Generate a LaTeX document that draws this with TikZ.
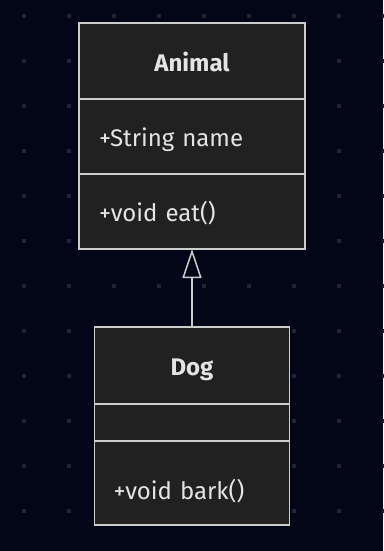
\documentclass[tikz,border=0pt]{standalone}
\usepackage{fontspec}
\setmainfont{Fira Sans}
\usetikzlibrary{arrows.meta, positioning}

\definecolor{canvas}{HTML}{020617}
\definecolor{griddot}{HTML}{22252F}
\definecolor{boxfill}{HTML}{212121}
\definecolor{boxline}{HTML}{CCCCCC}
\definecolor{ink}{HTML}{E4E4E4}

\begin{document}
\begin{tikzpicture}[
    x=1pt, y=-1pt,
    every node/.style={font=\fontsize{24}{28}\selectfont, text=ink},
    part/.style={rectangle, draw=boxline, fill=boxfill, line width=1.5pt,
                 outer sep=0pt, inner sep=0pt, text depth=0pt, text height=20pt},
    title/.style={part, font=\fontsize{24}{28}\selectfont\bfseries},
    member/.style={part, align=left, inner xsep=20pt, text width=#1},
    inherit/.style={-{Triangle[open, length=29pt, width=19pt]}, draw=boxline, line width=1.5pt},
]

% canvas and dot grid
\fill[canvas] (0,0) rectangle (383,551);
\useasboundingbox (0,0) rectangle (383,551);
\foreach \gx in {24,69,...,384}
    \foreach \gy in {16,61,...,556}
        \fill[griddot] (\gx-1.75,\gy-1.75) rectangle ++(3.5,3.5);

% class Animal
\node[title, minimum width=226pt, minimum height=76pt] (animal) at (192,61) {Animal};
\node[member=186pt, minimum height=75pt, below=0pt of animal] (animalattr) {+String name};
\node[member=186pt, minimum height=75pt, below=0pt of animalattr] (animalops) {+void eat()};

% class Dog
\node[title, minimum width=195pt, minimum height=77pt, below=78pt of animalops] (dog) {Dog};
\node[member=157pt, inner xsep=19pt, minimum height=37pt, below=0pt of dog] (dogattr) {};
\node[member=157pt, inner xsep=19pt, minimum height=84pt, text height=32pt, below=0pt of dogattr] (dogops) {+void bark()};

\draw[inherit] (dog) -- (animalops);

\end{tikzpicture}
\end{document}
